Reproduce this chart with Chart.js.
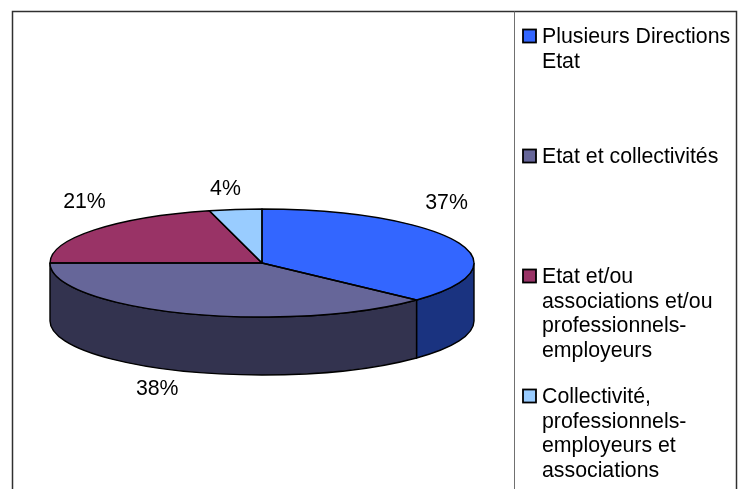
<!DOCTYPE html>
<html>
<head>
<meta charset="utf-8">
<script src="https://cdn.jsdelivr.net/npm/chart.js@4/dist/chart.umd.min.js"></script>
<style>
  html, body { margin: 0; padding: 0; background: #fff; }
  canvas { display: block; }
</style>
</head>
<body>
<canvas id="pie" width="744" height="489"></canvas>
<script>
// -------------------------------
// Data
// -------------------------------
const categories = [
  ["Plusieurs Directions", "Etat"],
  ["Etat et collectivités"],
  ["Etat et/ou", "associations et/ou", "professionnels-", "employeurs"],
  ["Collectivité,", "professionnels-", "employeurs et", "associations"],
];
const shares = [37, 38, 21, 4];
const percentLabels = ["37%", "38%", "21%", "4%"];

const topColors = ["#3366FF", "#666699", "#993366", "#99CCFF"];
const sideColors = ["#1A3380", "#33334F", "#4D1A33", "#4D6680"];

const FONT = '21.3px "Liberation Sans", Arial, sans-serif';
const TILT = 54 / 212; // vertical squash of the top face
const DEPTH = 58;      // thickness of the pie

// -------------------------------
// 3D pie: side walls + squashed top faces + labels
// -------------------------------
const pie3d = {
  id: "pie3d",
  beforeDatasetsDraw(chart) {
    const ctx = chart.ctx;
    const arcs = chart.getDatasetMeta(0).data;
    const { x, y, outerRadius: rx } = arcs[0];
    const ry = rx * TILT;

    // front walls (only the visible half, angles 0..PI)
    arcs.forEach((arc, i) => {
      const a0 = Math.max(arc.startAngle, 0);
      const a1 = Math.min(arc.endAngle, Math.PI);
      if (a0 >= a1) return;
      ctx.save();
      ctx.beginPath();
      ctx.ellipse(x, y, rx, ry, 0, a0, a1);
      ctx.lineTo(x + rx * Math.cos(a1), y + ry * Math.sin(a1) + DEPTH);
      ctx.ellipse(x, y + DEPTH, rx, ry, 0, a1, a0, true);
      ctx.closePath();
      ctx.fillStyle = sideColors[i];
      ctx.fill();
      ctx.lineWidth = 1.4;
      ctx.strokeStyle = "#000";
      ctx.stroke();
      ctx.restore();
    });

    // squash the library's pie into an ellipse
    ctx.save();
    ctx.translate(0, y);
    ctx.scale(1, TILT);
    ctx.translate(0, -y);
  },
  afterDatasetsDraw(chart) {
    const ctx = chart.ctx;
    ctx.restore();

    const arcs = chart.getDatasetMeta(0).data;
    const { x, y, outerRadius: rx } = arcs[0];
    const ry = rx * TILT;

    // slice outlines on the top face
    ctx.save();
    ctx.lineWidth = 1.4;
    ctx.strokeStyle = "#000";
    ctx.lineJoin = "round";
    arcs.forEach((arc) => {
      ctx.beginPath();
      ctx.moveTo(x, y);
      ctx.ellipse(x, y, rx, ry, 0, arc.startAngle, arc.endAngle);
      ctx.closePath();
      ctx.stroke();
    });
    ctx.restore();

    // percentage labels outside the slices
    ctx.save();
    ctx.font = FONT;
    ctx.fillStyle = "#000";
    ctx.textAlign = "center";
    ctx.textBaseline = "middle";
    arcs.forEach((arc, i) => {
      const mid = (arc.startAngle + arc.endAngle) / 2;
      const c = Math.cos(mid);
      const s = Math.sin(mid);
      const lx = x + rx * c - 10 - 18 * Math.max(s, 0);
      const t = Math.min(Math.abs((lx - x) / rx), 1);
      const edge = ry * Math.sqrt(1 - t * t);
      const ly = s < 0
        ? y - edge - (19 + 16 * Math.abs(c))
        : y + edge + DEPTH + 21;
      ctx.fillText(percentLabels[i], lx, ly);
    });
    ctx.restore();
  },
  afterDraw(chart) {
    const ctx = chart.ctx;
    ctx.save();

    // outer frame
    ctx.strokeStyle = "#303030";
    ctx.lineWidth = 1.5;
    ctx.strokeRect(12.5, 11.5, 724, 500);

    // legend box
    ctx.strokeStyle = "#707070";
    ctx.lineWidth = 1;
    ctx.beginPath();
    ctx.moveTo(514.5, 11.5);
    ctx.lineTo(514.5, 489);
    ctx.stroke();

    // legend entries
    ctx.font = FONT;
    ctx.textAlign = "left";
    ctx.textBaseline = "alphabetic";
    categories.forEach((lines, i) => {
      const base = 43 + 120 * i;
      ctx.fillStyle = topColors[i];
      ctx.fillRect(523, base - 13.5, 13, 13);
      ctx.strokeStyle = "#000";
      ctx.lineWidth = 1.8;
      ctx.strokeRect(523, base - 13.5, 13, 13);
      ctx.fillStyle = "#000";
      lines.forEach((line, j) => {
        ctx.fillText(line, 542, base + 24.5 * j);
      });
    });
    ctx.restore();
  },
};

new Chart(document.getElementById("pie"), {
  type: "pie",
  data: {
    labels: categories,
    datasets: [
      {
        data: shares,
        backgroundColor: topColors,
        borderWidth: 0,
        clip: false,
      },
    ],
  },
  options: {
    responsive: false,
    animation: false,
    events: [],
    layout: { padding: { left: 50, right: 270, top: 51, bottom: 14 } },
    plugins: {
      legend: { display: false },
      tooltip: { enabled: false },
    },
  },
  plugins: [pie3d],
});
</script>
</body>
</html>
